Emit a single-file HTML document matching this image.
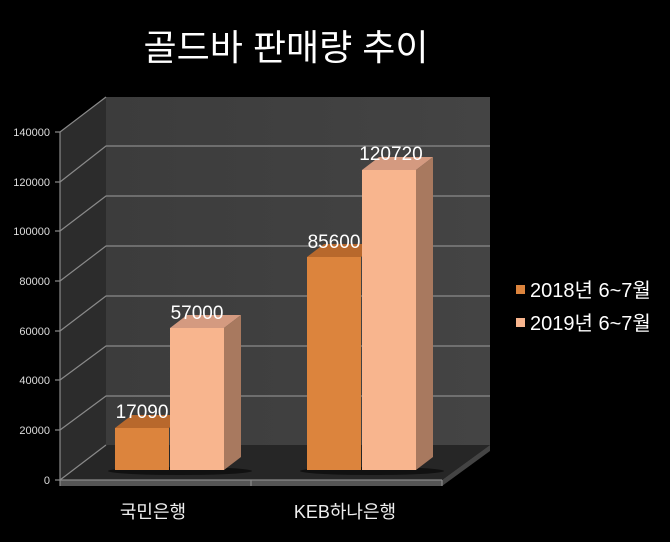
<!DOCTYPE html>
<html><head><meta charset="utf-8"><style>
html,body{margin:0;padding:0;background:#000;}
svg{display:block;}
text{font-family:"Liberation Sans","Noto Sans CJK KR",sans-serif;}
</style></head><body>
<svg width="670" height="542" viewBox="0 0 670 542" xmlns="http://www.w3.org/2000/svg">
<defs>
<linearGradient id="bw" x1="0" y1="0" x2="1" y2="0"><stop offset="0" stop-color="#3c3c3c"/><stop offset="1" stop-color="#444"/></linearGradient>
</defs>
<rect width="670" height="542" fill="#000"/>
<text x="286" y="60" font-size="36" fill="#fff" text-anchor="middle">골드바 판매량 추이</text>
<rect x="106" y="97" width="384" height="348" fill="url(#bw)"/>
<polygon points="60,132 106,97 106,445 60,480" fill="#2c2c2c"/>
<polygon points="60,480 106,445 490,445 442,480" fill="#262626"/>
<polygon points="60,480 442,480 442,486 60,486" fill="#555"/>
<polygon points="442,480 490,445 490,451 442,486" fill="#444"/>
<g stroke="#8a8a8a" stroke-width="1.2" fill="none">
<polyline points="60,132 106,97"/>
<polyline points="60,182 106,146 490,146"/>
<polyline points="60,231 106,196 490,196"/>
<polyline points="60,281 106,246 490,246"/>
<polyline points="60,331 106,296 490,296"/>
<polyline points="60,380 106,346 490,346"/>
<polyline points="60,430 106,396 490,396"/>
<polyline points="60,480 106,445"/>
<line x1="60" y1="132" x2="60" y2="481"/>
<line x1="55" y1="132" x2="60" y2="132"/><line x1="55" y1="182" x2="60" y2="182"/><line x1="55" y1="231" x2="60" y2="231"/><line x1="55" y1="281" x2="60" y2="281"/><line x1="55" y1="331" x2="60" y2="331"/><line x1="55" y1="380" x2="60" y2="380"/><line x1="55" y1="430" x2="60" y2="430"/><line x1="55" y1="480" x2="60" y2="480"/>
<line x1="60" y1="480" x2="442" y2="480"/>
<line x1="60" y1="480" x2="60" y2="486"/><line x1="251" y1="480" x2="251" y2="486"/><line x1="442" y1="480" x2="442" y2="486"/>
</g>
<g font-size="11" fill="#ddd" text-anchor="end">
<text x="50" y="136">140000</text><text x="50" y="186">120000</text><text x="50" y="235">100000</text><text x="50" y="285">80000</text><text x="50" y="335">60000</text><text x="50" y="384">40000</text><text x="50" y="434">20000</text><text x="50" y="484">0</text>
</g>
<ellipse cx="180" cy="471" rx="72" ry="4" fill="#111"/>
<ellipse cx="372" cy="471" rx="72" ry="4" fill="#111"/>
<polygon points="115,428 132,415 186,415 169,428" fill="#b8682c"/>
<rect x="115" y="428" width="54" height="42" fill="#dc843d"/>
<polygon points="170,328 187,315 241,315 224,328" fill="#d49a80"/>
<polygon points="224,328 241,315 241,457 224,470" fill="#a8795f"/>
<rect x="170" y="328" width="54" height="142" fill="#f8b58e"/>
<polygon points="307,257 324,244 378,244 361,257" fill="#b8682c"/>
<rect x="307" y="257" width="54" height="213" fill="#dc843d"/>
<polygon points="362,170 379,157 433,157 416,170" fill="#d49a80"/>
<polygon points="416,170 433,157 433,457 416,470" fill="#a8795f"/>
<rect x="362" y="170" width="54" height="300" fill="#f8b58e"/>
<g font-size="19" fill="#fff" text-anchor="middle">
<text x="142" y="418">17090</text>
<text x="197" y="319">57000</text>
<text x="334" y="248">85600</text>
<text x="391" y="160">120720</text>
</g>
<g font-size="18" fill="#eee" text-anchor="middle">
<text x="153" y="518">국민은행</text>
<text x="345" y="518">KEB하나은행</text>
</g>
<rect x="516" y="285" width="9" height="9" fill="#dc843d"/>
<rect x="516" y="318" width="9" height="9" fill="#f8b58e"/>
<g font-size="20" fill="#fff">
<text x="530" y="297">2018년 6~7월</text>
<text x="530" y="330">2019년 6~7월</text>
</g>
</svg>
</body></html>
